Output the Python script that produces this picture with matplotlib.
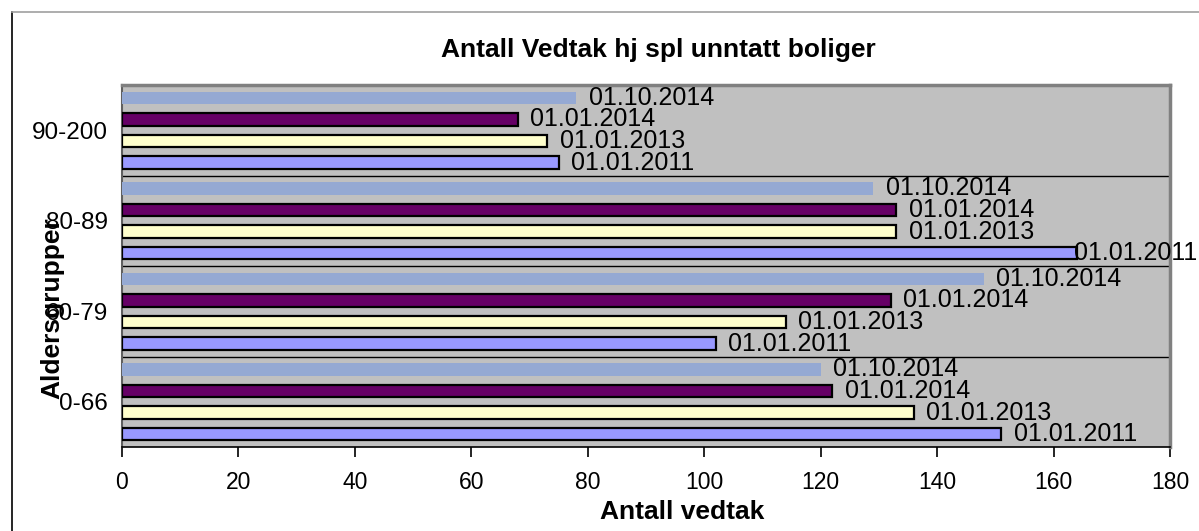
import numpy as np
import matplotlib
matplotlib.use('Agg')
import matplotlib.pyplot as plt
from matplotlib.lines import Line2D

plt.rcParams['font.family'] = ['Liberation Sans', 'DejaVu Sans']

groups = ['0-66', '60-79', '80-89', '90-200']
series = ['01.01.2011', '01.01.2013', '01.01.2014', '01.10.2014']
v_2011 = [151, 102, 164, 75]
v_2013 = [136, 114, 133, 73]
v_2014_01 = [122, 132, 133, 68]
v_2014_10 = [120, 148, 129, 78]
values = [v_2011, v_2013, v_2014_01, v_2014_10]

colors = ['#9999FF', '#FFFFCC', '#660066', '#95A9D3']
edges = ['black', 'black', 'black', 'none']

W, H = 1199, 531
fig = plt.figure(figsize=(W / 100, H / 100), dpi=100)
ax = fig.add_axes([122 / W, 1 - 447 / H, 1048 / W, 362 / H])
ax.set_facecolor('#C0C0C0')

pitch = 0.238
bh = 0.14
y = np.arange(len(groups))
for i, (vals, c, e) in enumerate(zip(values, colors, edges)):
    pos = y + (i - 1.5) * pitch
    ax.barh(pos, vals, height=bh, color=c, edgecolor=e, linewidth=1.6, zorder=3)
    for yy, v in zip(pos, vals):
        # excel pulls the label back onto the bar when it would not fit
        off = 9 if v < 160 else -2
        ax.annotate(series[i], (v, yy), xytext=(off, 0), textcoords='offset points',
                    va='center', ha='left', fontsize=18, clip_on=False, zorder=4)

ax.set_xlim(0, 180)
ax.set_ylim(-0.5, 3.5)
ax.set_xticks(range(0, 181, 20))
ax.tick_params(axis='x', direction='out', length=7, width=1.2, pad=10, labelsize=16.5)

ax.set_yticks([0.5, 1.5, 2.5])
ax.set_yticklabels([])
ax.set_yticks(y, minor=True)
ax.set_yticklabels(groups, minor=True, fontsize=17.5)
ax.tick_params(axis='y', which='major', length=0)
ax.tick_params(axis='y', which='minor', length=0, pad=10)
ax.grid(axis='y', which='major', color='black', linewidth=1.0, zorder=1)
ax.set_axisbelow(True)

for s in ['top', 'right']:
    ax.spines[s].set_color('#808080')
    ax.spines[s].set_linewidth(2.5)
ax.spines['left'].set_color('#606060')
ax.spines['left'].set_linewidth(1.5)
ax.spines['bottom'].set_color('black')
ax.spines['bottom'].set_linewidth(1.2)

fig.text(658 / W, 1 - 50 / H, 'Antall Vedtak hj spl unntatt boliger',
         ha='center', va='center', fontsize=19, fontweight='bold')
fig.text(682 / W, 1 - 512 / H, 'Antall vedtak',
         ha='center', va='center', fontsize=19, fontweight='bold')
fig.text(52 / W, 1 - 308 / H, 'Aldersgrupper', rotation=90,
         ha='center', va='center', fontsize=19, fontweight='bold')

# outer chart frame
fig.add_artist(Line2D([12 / W, 12 / W], [1 - 12 / H, 0], color='black', linewidth=1.2))
fig.add_artist(Line2D([12 / W, 1], [1 - 12 / H, 1 - 12 / H], color='#A0A0A0', linewidth=1.2))

fig.savefig('out.png', dpi=100)
